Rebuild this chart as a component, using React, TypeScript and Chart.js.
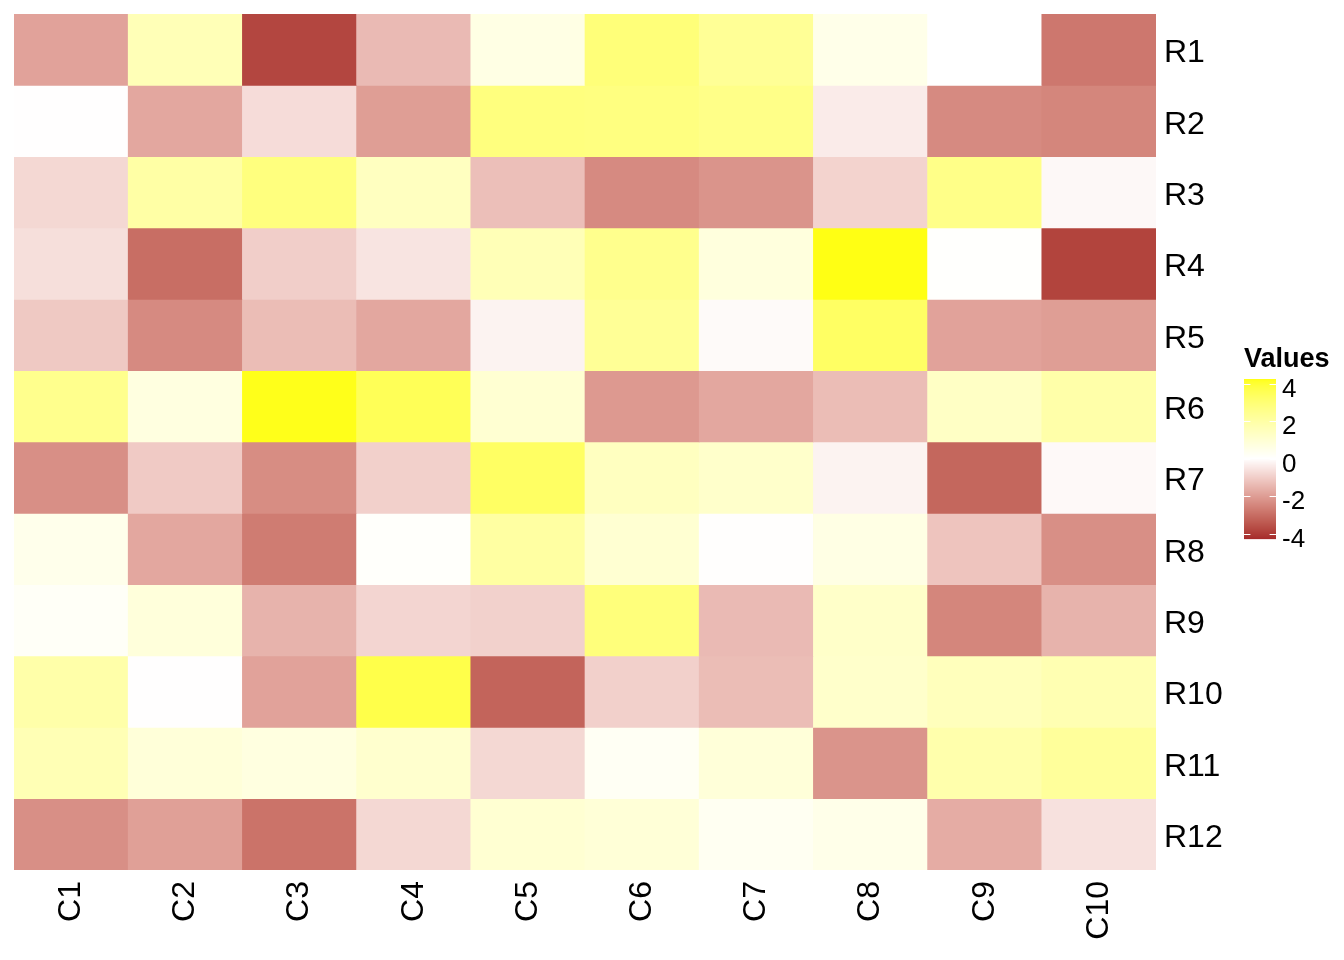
import React, { useEffect, useRef } from "react";
import { Chart, registerables } from "chart.js";

Chart.register(...registerables);

const columns = ["C1", "C2", "C3", "C4", "C5", "C6", "C7", "C8", "C9", "C10"];
const rows = ["R1", "R2", "R3", "R4", "R5", "R6", "R7", "R8", "R9", "R10", "R11", "R12"];

const r1 = [-1.9, 1.6, -3.8, -1.4, 0.6, 2.9, 2.3, 0.5, 0.0, -2.8];
const r2 = [-0.02, -1.8, -0.7, -2.0, 2.8, 2.75, 2.6, -0.4, -2.4, -2.5];
const r3 = [-0.8, 2.0, 2.8, 1.4, -1.3, -2.4, -2.2, -0.9, 2.6, -0.15];
const r4 = [-0.65, -3.0, -1.0, -0.55, 1.6, 2.5, 0.75, 4.23, 0.05, -3.85];
const r5 = [-1.1, -2.4, -1.35, -1.8, -0.25, 2.3, -0.1, 3.3, -1.9, -2.0];
const r6 = [2.5, 0.7, 4.2, 3.5, 1.0, -2.1, -1.8, -1.35, 1.3, 1.9];
const r7 = [-2.3, -1.07, -2.35, -0.95, 3.3, 1.4, 1.15, -0.25, -3.15, -0.12];
const r8 = [0.45, -1.8, -2.7, 0.1, 2.05, 1.0, -0.03, 0.6, -1.2, -2.3];
const r9 = [0.17, 0.8, -1.55, -0.85, -0.93, 2.85, -1.4, 1.2, -2.5, -1.55];
const r10 = [1.9, -0.02, -1.9, 3.7, -3.2, -0.95, -1.35, 1.15, 1.5, 1.7];
const r11 = [1.65, 0.85, 0.7, 1.1, -0.8, 0.25, 0.85, -2.2, 1.85, 2.2];
const r12 = [-2.3, -1.95, -2.9, -0.8, 1.0, 0.9, 0.3, 0.5, -1.7, -0.6];
const values = [r1, r2, r3, r4, r5, r6, r7, r8, r9, r10, r11, r12];

const legendTicks = [4, 2, 0, -2, -4];
const legendMin = -4.3;
const legendMax = 4.23;
const legendTitle = "Values";

const LOW = "#A52A2A";
const MID = "#FFFFFF";
const HIGH = "#FFFF00";
const FONT = "'Liberation Sans', Arial, sans-serif";

// ---- colour helpers (Lab interpolation, like ggplot2) ----
function hexToRgb(h: string) {
  const n = parseInt(h.slice(1), 16);
  return [(n >> 16) & 255, (n >> 8) & 255, n & 255];
}
function toLin(c: number) {
  c /= 255;
  return c <= 0.04045 ? c / 12.92 : Math.pow((c + 0.055) / 1.055, 2.4);
}
function fromLin(c: number) {
  const v = c <= 0.0031308 ? 12.92 * c : 1.055 * Math.pow(c, 1 / 2.4) - 0.055;
  return Math.max(0, Math.min(255, Math.round(v * 255)));
}
const WX = 0.95047, WY = 1.0, WZ = 1.08883;
function rgbToLab(rgb: number[]) {
  const [r, g, b] = rgb.map(toLin);
  const x = (0.4124564 * r + 0.3575761 * g + 0.1804375 * b) / WX;
  const y = (0.2126729 * r + 0.7151522 * g + 0.072175 * b) / WY;
  const z = (0.0193339 * r + 0.119192 * g + 0.9503041 * b) / WZ;
  const f = (t: number) => (t > 216 / 24389 ? Math.cbrt(t) : (24389 / 27 * t + 16) / 116);
  const fx = f(x), fy = f(y), fz = f(z);
  return [116 * fy - 16, 500 * (fx - fy), 200 * (fy - fz)];
}
function labToRgb(lab: number[]) {
  const [L, a, b] = lab;
  const fy = (L + 16) / 116;
  const fx = fy + a / 500;
  const fz = fy - b / 200;
  const inv = (t: number) => (t * t * t > 216 / 24389 ? t * t * t : (116 * t - 16) / (24389 / 27));
  const x = inv(fx) * WX, y = inv(fy) * WY, z = inv(fz) * WZ;
  const r = 3.2404542 * x - 1.5371385 * y - 0.4985314 * z;
  const g = -0.969266 * x + 1.8760108 * y + 0.041556 * z;
  const bb = 0.0556434 * x - 0.2040259 * y + 1.0572252 * z;
  return [fromLin(r), fromLin(g), fromLin(bb)];
}
const labLow = rgbToLab(hexToRgb(LOW));
const labMid = rgbToLab(hexToRgb(MID));
const labHigh = rgbToLab(hexToRgb(HIGH));
const maxAbs = Math.max(Math.abs(legendMin), Math.abs(legendMax));
function colorFor(v: number) {
  let t = v / maxAbs;
  t = Math.max(-1, Math.min(1, t));
  const end = t >= 0 ? labHigh : labLow;
  const k = Math.abs(t);
  const lab = labMid.map((m, i) => m + (end[i] - m) * k);
  const [r, g, b] = labToRgb(lab);
  return `rgb(${r},${g},${b})`;
}

const legendPlugin = {
  id: "heatLegend",
  afterDraw(chart: any) {
    const ctx = chart.ctx;
    const barLeft = 1244;
    const barWidth = 32;
    const zeroY = 458.5;
    const pxPerUnit = 18.75;
    const yOf = (v: number) => zeroY - v * pxPerUnit;
    const top = yOf(legendMax);
    const bottom = yOf(legendMin);
    ctx.save();
    for (let y = Math.floor(top); y < bottom; y++) {
      const v = (zeroY - (y + 0.5)) / pxPerUnit;
      ctx.fillStyle = colorFor(v);
      ctx.fillRect(barLeft, y, barWidth, Math.min(1, bottom - y));
    }
    ctx.strokeStyle = "#FFFFFF";
    ctx.lineWidth = 1.2;
    ctx.fillStyle = "#000000";
    ctx.font = `26px ${FONT}`;
    ctx.textAlign = "left";
    ctx.textBaseline = "middle";
    legendTicks.forEach((v) => {
      const y = Math.round(yOf(v)) + 0.5;
      ctx.beginPath();
      ctx.moveTo(barLeft, y);
      ctx.lineTo(barLeft + 6.4, y);
      ctx.moveTo(barLeft + barWidth - 6.4, y);
      ctx.lineTo(barLeft + barWidth, y);
      ctx.stroke();
      ctx.fillText(String(v), barLeft + barWidth + 6, y + 5);
    });
    ctx.font = `bold 27px ${FONT}`;
    ctx.textBaseline = "alphabetic";
    ctx.fillText(legendTitle, barLeft, 367);
    ctx.restore();
  },
};

export default function App() {
  const ref = useRef<HTMLCanvasElement | null>(null);
  useEffect(() => {
    if (!ref.current) return;
    const ny = rows.length;
    const datasets = rows.map((name, i) => ({
      label: name,
      data: columns.map(() => [ny - i - 1, ny - i]),
      backgroundColor: columns.map((_, j) => colorFor(values[i][j])),
      borderWidth: 0,
      barPercentage: 1,
      categoryPercentage: 1,
      grouped: false,
    }));
    const chart = new Chart(ref.current, {
      type: "bar",
      data: { labels: columns, datasets: datasets as any },
      plugins: [legendPlugin],
      options: {
        animation: false,
        responsive: false,
        maintainAspectRatio: false,
        layout: { padding: { left: 14, top: 14, right: 0, bottom: 0 } },
        plugins: { legend: { display: false }, tooltip: { enabled: false } },
        scales: {
          x: {
            type: "category",
            grid: { display: false, drawTicks: false },
            border: { display: false },
            ticks: {
              minRotation: 90,
              maxRotation: 90,
              padding: 11,
              color: "#000000",
              font: { family: FONT, size: 32 },
            },
            afterFit: (s: any) => {
              s.height = 90;
              s.paddingLeft = 0;
              s.paddingRight = 0;
            },
          },
          y: {
            type: "linear",
            position: "right",
            min: 0,
            max: ny,
            grid: { display: false, drawTicks: false },
            border: { display: false },
            afterBuildTicks: (s: any) => {
              s.ticks = rows.map((_, i) => ({ value: ny - i - 0.5 }));
            },
            ticks: {
              padding: 8,
              labelOffset: 4,
              color: "#000000",
              font: { family: FONT, size: 32 },
              callback: (_v: any, idx: number) => rows[idx],
            },
            afterFit: (s: any) => {
              s.width = 188;
              s.paddingTop = 0;
              s.paddingBottom = 0;
            },
          },
        },
      },
    });
    return () => chart.destroy();
  }, []);
  return (
    <div style={{ position: "fixed", left: 0, top: 0, width: 1344, height: 960, background: "#FFFFFF" }}>
      <canvas ref={ref} width={1344} height={960} style={{ display: "block" }} />
    </div>
  );
}
